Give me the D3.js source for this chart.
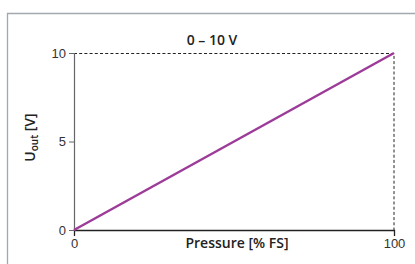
<!DOCTYPE html>
<html>
<head>
<meta charset="utf-8">
<script src="https://cdn.jsdelivr.net/npm/d3@7"></script>
<style>
  body { margin: 0; background: #fff; }
  svg { display: block; font-family: "Open Sans", "Noto Sans", sans-serif; }
</style>
</head>
<body>
<div id="chart"></div>
<script>
const pressure = [0, 100]
const voltage = [0, 10]
const xTicks = [0, 100]
const yTicks = [0, 5, 10]
const title = '0 – 10 V'

const width = 415, height = 264
const margin = {top: 53, right: 21, bottom: 34, left: 74}

const svg = d3.select('#chart').append('svg')
    .attr('width', width)
    .attr('height', height)

// outer frame
svg.append('path')
    .attr('d', 'M7.5,' + height + 'V13.5H' + width)
    .attr('fill', 'none')
    .attr('stroke', '#a3a7ae')
    .attr('stroke-width', 1.3)

const x = d3.scaleLinear().domain([0, 100]).range([margin.left, width - margin.right])
const y = d3.scaleLinear().domain([0, 10]).range([height - margin.bottom, margin.top])

// dashed guides
svg.append('path')
    .attr('d', 'M' + x(0) + ',' + (y(10) + 0.5) + 'H' + x(100) + 'V' + y(0))
    .attr('fill', 'none')
    .attr('stroke', '#222')
    .attr('stroke-width', 1)
    .attr('stroke-dasharray', '3,2.2')

const xAxis = svg.append('g')
    .attr('transform', 'translate(0,' + y(0) + ')')
    .call(d3.axisBottom(x).tickValues(xTicks).tickSize(6).tickPadding(3))
xAxis.select('.domain').attr('stroke', '#222').attr('stroke-width', 1.3)
xAxis.selectAll('.tick line').attr('stroke', '#222')
xAxis.selectAll('text').attr('font-size', 13).attr('fill', '#333')

const yAxis = svg.append('g')
    .attr('transform', 'translate(' + x(0) + ',0)')
    .call(d3.axisLeft(y).tickValues(yTicks).tickSize(5).tickPadding(3))
yAxis.select('.domain').attr('stroke', '#666').attr('stroke-width', 1.2)
yAxis.selectAll('.tick line').attr('stroke', '#666')
yAxis.selectAll('text').attr('font-size', 13).attr('fill', '#333')

const line = d3.line()
    .x((d, i) => x(pressure[i]))
    .y(d => y(d))

svg.append('path')
    .datum(voltage)
    .attr('d', line)
    .attr('fill', 'none')
    .attr('stroke', '#9c3c98')
    .attr('stroke-width', 2.5)

svg.append('text')
    .attr('x', 212)
    .attr('y', 45)
    .attr('text-anchor', 'middle')
    .attr('font-size', 14)
    .attr('font-weight', 600)
    .attr('fill', '#222')
    .text(title)

svg.append('text')
    .attr('x', 237)
    .attr('y', 248)
    .attr('text-anchor', 'middle')
    .attr('font-size', 14)
    .attr('font-weight', 600)
    .attr('fill', '#222')
    .text('Pressure [% FS]')

const yl = svg.append('text')
    .attr('transform', 'translate(35,137.5) rotate(-90)')
    .attr('text-anchor', 'middle')
    .attr('font-size', 14)
    .attr('font-weight', 600)
    .attr('fill', '#222')
yl.append('tspan').text('U')
yl.append('tspan').attr('font-size', 10).attr('dy', 3).text('out')
yl.append('tspan').attr('dy', -3).text(' [V]')
</script>
</body>
</html>
